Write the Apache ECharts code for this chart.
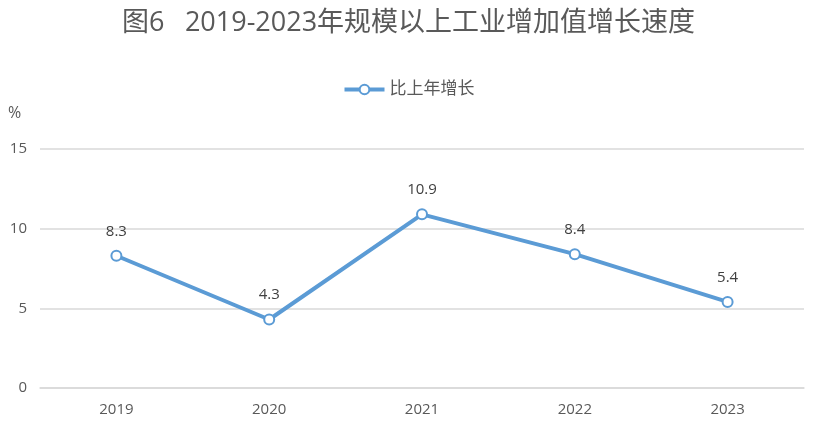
<!DOCTYPE html>
<html><head><meta charset="utf-8">
<script src="https://cdn.jsdelivr.net/npm/echarts@6/dist/echarts.min.js"></script>
<style>html,body{margin:0;padding:0;background:#fff}#c{width:817px;height:429px}</style>
</head><body><div id="c"></div>
<script>
const categories = ['2019','2020','2021','2022','2023'];
const growth = [8.3, 4.3, 10.9, 8.4, 5.4];
const seriesName = '比上年增长';
const titleText = '图6\u2002 2019-2023年规模以上工业增加值增长速度';

const chart = echarts.init(document.getElementById('c'));
const font = '"Open Sans","Noto Sans CJK SC",sans-serif';
chart.setOption({
  animation: false,
  textStyle: {fontFamily: font},
  title: {text: titleText, left: 'center', top: 5,
    textStyle: {fontSize: 27, fontWeight: 'normal', color: '#595959', fontFamily: font}},
  legend: {top: 76, left: 'center', itemWidth: 40, itemHeight: 12, itemGap: 6,
    lineStyle: {width: 4},
    textStyle: {fontSize: 17, color: '#595959'}, data: [seriesName]},
  grid: {left: 40, right: 13, top: 149, bottom: 41},
  xAxis: {type: 'category', data: categories,
    axisLine: {show: true, lineStyle: {color: '#d9d9d9', width: 1.5}},
    axisTick: {show: false},
    axisLabel: {color: '#595959', fontSize: 15, margin: 14}},
  yAxis: {type: 'value', min: 0, max: 15, interval: 5, name: '%',
    nameLocation: 'end', nameGap: 28,
    nameTextStyle: {color: '#595959', fontSize: 16, align: 'left', padding: [0,0,0,-32]},
    axisLine: {show: false}, axisTick: {show: false},
    axisLabel: {color: '#595959', fontSize: 15, margin: 13},
    splitLine: {lineStyle: {color: '#d9d9d9', width: 1.5}}},
  series: [{name: seriesName, type: 'line', data: growth,
    symbol: 'circle', symbolSize: 10,
    lineStyle: {color: '#5B9BD5', width: 4},
    itemStyle: {color: '#fff', borderColor: '#5B9BD5', borderWidth: 2},
    label: {show: true, position: 'top', distance: 11, color: '#404040', fontSize: 15}}]
});
</script></body></html>
